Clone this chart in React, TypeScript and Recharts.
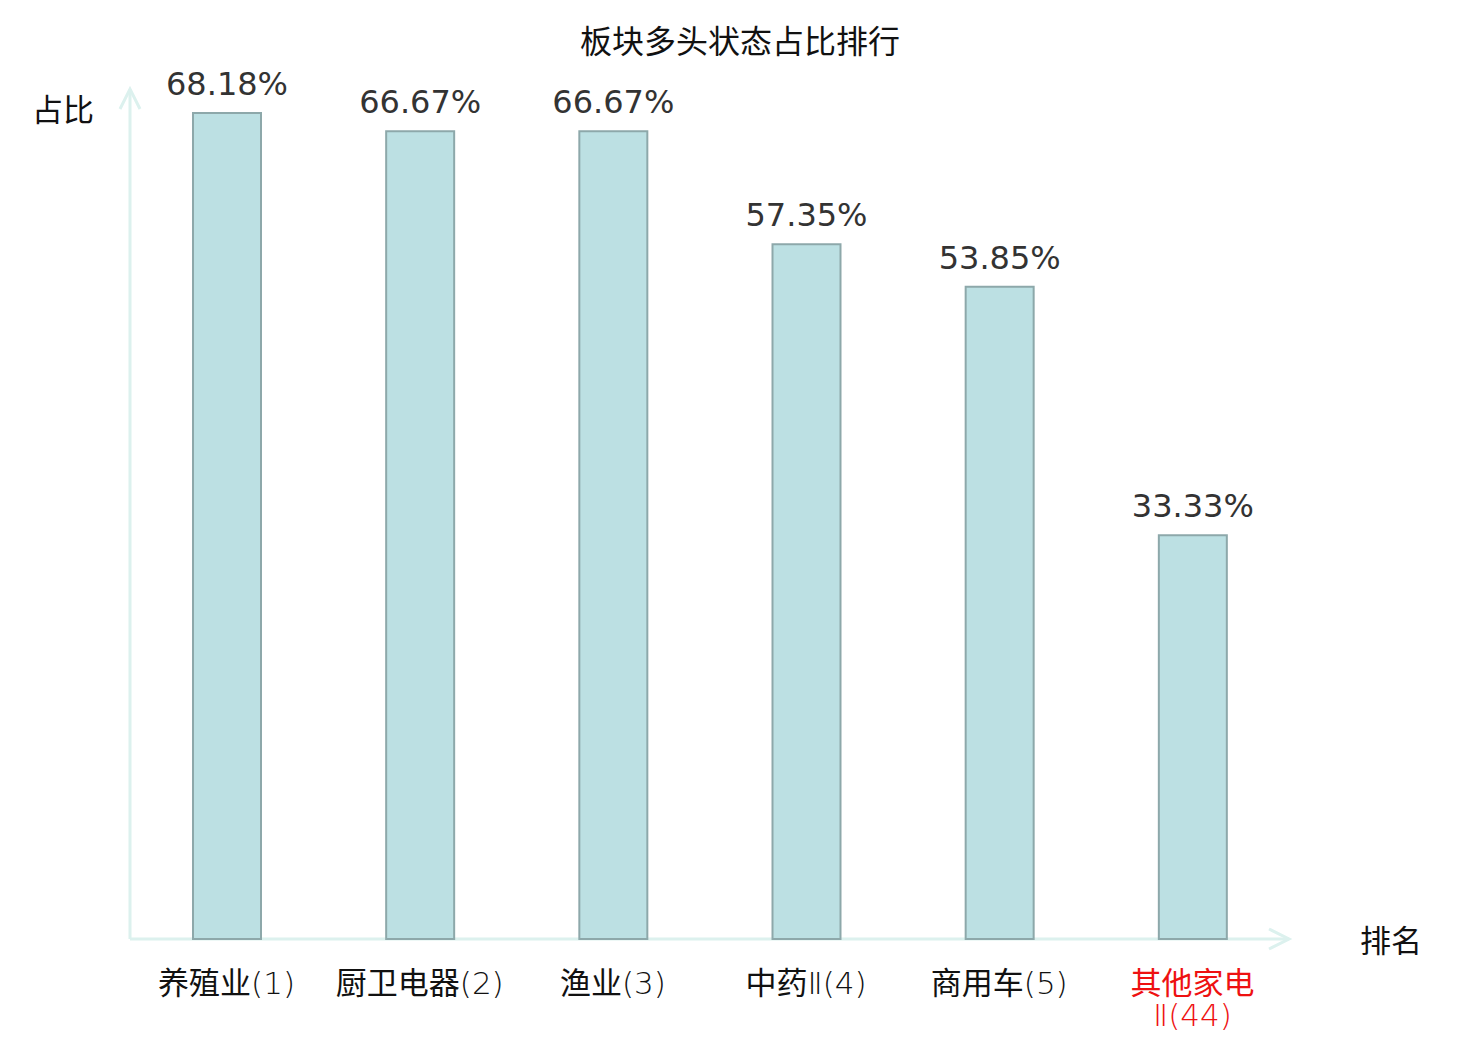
import React from "react";
import { BarChart, Bar, XAxis, YAxis, LabelList, Customized, usePlotArea } from "recharts";

const categories = ["养殖业(1)", "厨卫电器(2)", "渔业(3)", "中药Ⅱ(4)", "商用车(5)", "其他家电\nⅡ(44)"];
const values = [68.18, 66.67, 66.67, 57.35, 53.85, 33.33];
const tickColors = ["#111111", "#111111", "#111111", "#111111", "#111111", "#ee1111"];
const yDomain = [0, 70];

const data = categories.map((c, i) => ({ name: c, value: values[i], color: tickColors[i] }));

const FONT = "'DejaVu Sans', 'Noto Sans CJK SC', sans-serif";
const AXIS_COLOR = "#dcf1ee";

const isCJK = (ch: string) => /[\u4e00-\u9fff]/.test(ch);

const splitRuns = (s: string) => {
  const runs: { text: string; cjk: boolean }[] = [];
  for (const ch of s) {
    const c = isCJK(ch);
    if (runs.length && runs[runs.length - 1].cjk === c) runs[runs.length - 1].text += ch;
    else runs.push({ text: ch, cjk: c });
  }
  return runs;
};

const Tick = (props: any) => {
  const { x, payload, index } = props;
  const lines = String(payload.value).split("\n");
  const color = tickColors[index] ?? "#111";
  return (
    <text
      x={x}
      y={983}
      textAnchor="middle"
      dominantBaseline="central"
      fontSize={31}
      fontFamily={FONT}
      fill={color}
    >
      {lines.map((l, i) => (
        <tspan key={i} x={x} dy={i === 0 ? 0 : 32}>
          {splitRuns(l).map((r, j) => (
            <tspan key={j} fontWeight={r.cjk ? 400 : 200}>
              {r.text}
            </tspan>
          ))}
        </tspan>
      ))}
    </text>
  );
};

const Decor = () => {
  const area = usePlotArea();
  if (!area) return null;
  const { x, y, width, height } = area;
  const bx = x;
  const by = y + height;
  const rx = x + width;
  return (
    <g>
      <line x1={bx} y1={by} x2={rx} y2={by} stroke={AXIS_COLOR} strokeWidth={3} />
      <polyline points={`${rx - 20},${by - 10} ${rx},${by} ${rx - 20},${by + 10}`} fill="none" stroke={AXIS_COLOR} strokeWidth={3} />
      <line x1={bx} y1={by} x2={bx} y2={y - 2} stroke={AXIS_COLOR} strokeWidth={3} />
      <polyline points={`${bx - 10},${y + 18} ${bx},${y - 2} ${bx + 10},${y + 18}`} fill="none" stroke={AXIS_COLOR} strokeWidth={3} />
      <text x={740} y={42} textAnchor="middle" dominantBaseline="central" fontSize={32} fontFamily={FONT} fill="#111">
        板块多头状态占比排行
      </text>
      <text x={63} y={110} textAnchor="middle" dominantBaseline="central" fontSize={31} fontFamily={FONT} fill="#111">
        占比
      </text>
      <text x={rx + 102} y={by + 2} textAnchor="middle" dominantBaseline="central" fontSize={31} fontFamily={FONT} fill="#111">
        排名
      </text>
    </g>
  );
};

export default function App() {
  return (
    <div style={{ position: "absolute", left: 0, top: 0, width: 1480, height: 1040, background: "#fff" }}>
      <BarChart
        width={1480}
        height={1040}
        data={data}
        margin={{ top: 91, right: 191, bottom: 41, left: 130 }}
        barCategoryGap={0}
      >
        <XAxis dataKey="name" axisLine={false} tickLine={false} height={60} interval={0} tick={<Tick />} />
        <YAxis hide domain={yDomain} />
        <Bar dataKey="value" fill="#bce0e3" stroke="#8da8aa" strokeWidth={2} barSize={68} isAnimationActive={false}>
          <LabelList
            dataKey="value"
            position="top"
            offset={18}
            formatter={(v: any) => `${Number(v).toFixed(2)}%`}
            fontSize={32}
            fontFamily={FONT}
            fill="#333333"
          />
        </Bar>
        <Customized component={Decor} />
      </BarChart>
    </div>
  );
}
